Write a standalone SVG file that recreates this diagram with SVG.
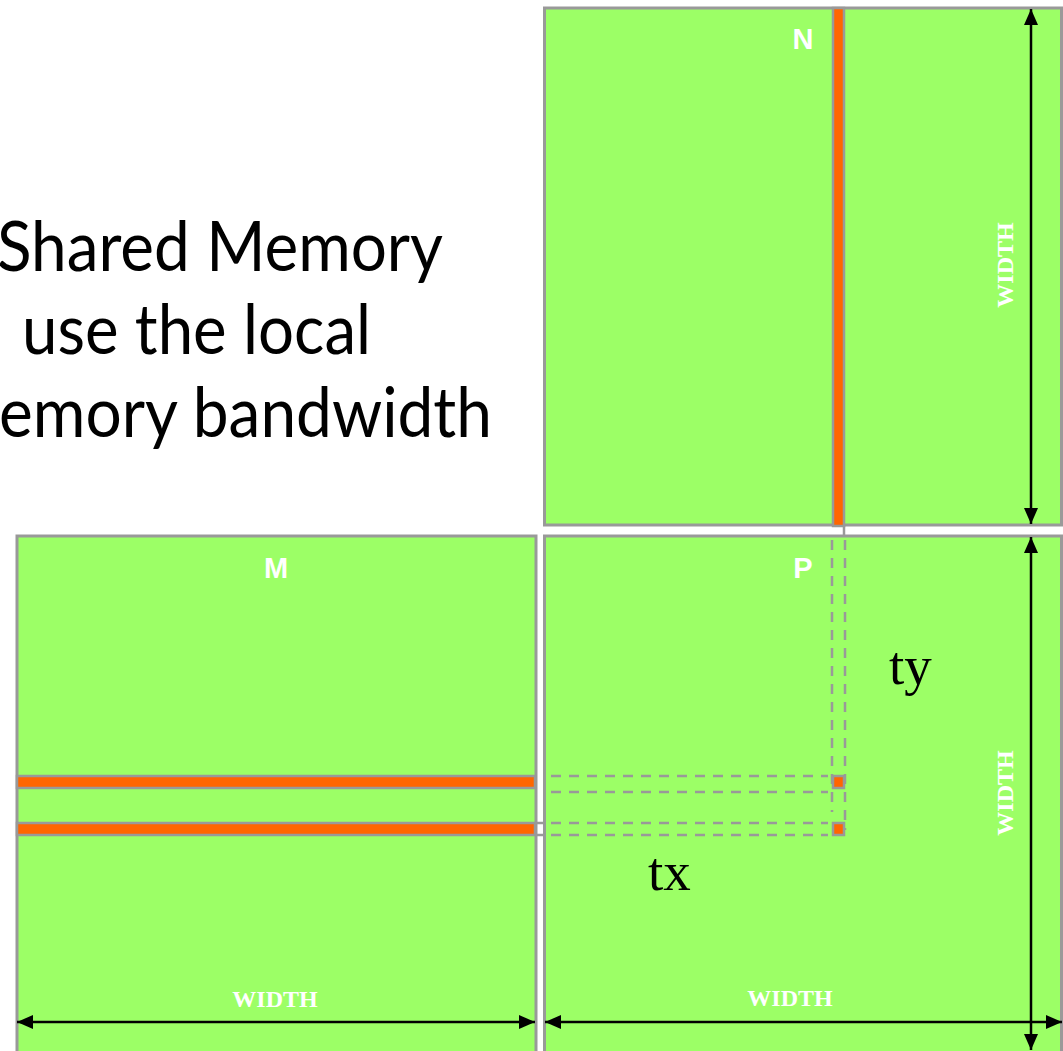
<svg xmlns="http://www.w3.org/2000/svg" width="1063" height="1051" viewBox="0 0 1063 1051">
  <defs>
    <style>
      .mat { fill: #9cff66; stroke: #999999; stroke-width: 3; }
      .row { fill: #ff6600; stroke: #999999; stroke-width: 2.5; }
      .dash { fill: none; stroke: #999999; stroke-width: 2.5; stroke-dasharray: 10 8; }
      .dim { stroke: #000000; stroke-width: 2.5; fill: none; marker-start: url(#tip); marker-end: url(#tip); }
      .lbl { fill: #ffffff; font-family: "Liberation Sans", Arial, sans-serif; font-weight: bold; font-size: 29px; text-anchor: middle; }
      .wid { fill: #ffffff; font-family: "Liberation Serif", "Times New Roman", serif; font-weight: bold; font-size: 24px; text-anchor: middle; }
      .idx { fill: #000000; font-family: "Liberation Serif", "Times New Roman", serif; font-size: 55px; }
      .body { fill: #000000; font-family: Lato, "Noto Sans", sans-serif; font-size: 70px; }
    </style>
    <marker id="tip" viewBox="0 0 16 14" refX="16" refY="7" markerWidth="16" markerHeight="14" markerUnits="userSpaceOnUse" orient="auto-start-reverse">
      <path d="M0,0 L16,7 L0,14 Z" fill="#000000"/>
    </marker>
  </defs>

  <rect width="1063" height="1051" fill="#ffffff"/>

  <!-- explanatory text on the left -->
  <g id="caption">
    <text class="body" x="-3" y="271" textLength="446" lengthAdjust="spacingAndGlyphs">Shared Memory</text>
    <text class="body" x="22" y="354" textLength="349" lengthAdjust="spacingAndGlyphs">use the local</text>
    <text class="body" x="-1" y="437" textLength="493" lengthAdjust="spacingAndGlyphs">emory bandwidth</text>
  </g>

  <!-- matrix N (top right) -->
  <g id="matrix-N">
    <rect class="mat" x="544.5" y="8" width="517" height="517"/>
    <rect class="row" x="833" y="8" width="11" height="518"/>
    <text class="lbl" x="803" y="49">N</text>
    <text class="wid" transform="translate(1013,265) rotate(-90)">WIDTH</text>
  </g>

  <!-- matrix M (bottom left) -->
  <g id="matrix-M">
    <rect class="mat" x="17" y="536" width="519" height="530"/>
    <rect class="row" x="17" y="776" width="518" height="12"/>
    <rect class="row" x="17" y="823" width="518" height="12"/>
    <text class="lbl" x="276" y="578">M</text>
    <text class="wid" x="275" y="1007">WIDTH</text>
  </g>

  <!-- matrix P (bottom right) -->
  <g id="matrix-P">
    <rect class="mat" x="544.5" y="536" width="517" height="530"/>
    <rect class="row" x="833" y="776" width="11" height="12"/>
    <rect class="row" x="833" y="823" width="11" height="12"/>
    <text class="lbl" x="803" y="578">P</text>
    <text class="wid" transform="translate(1013,793) rotate(-90)">WIDTH</text>
    <text class="wid" x="790" y="1006">WIDTH</text>
    <text class="idx" x="889" y="684">ty</text>
    <text class="idx" x="648" y="890">tx</text>
  </g>

  <!-- projection guides and dimension arrows -->
  <g id="connectors">
    <line x1="844" y1="525" x2="844" y2="537" stroke="#999999" stroke-width="2.5"/>
    <line x1="535" y1="823" x2="545" y2="823" stroke="#999999" stroke-width="2.5"/>
    <line x1="535" y1="835" x2="545" y2="835" stroke="#999999" stroke-width="2.5"/>
    <line class="dash" x1="832" y1="540" x2="832" y2="812"/>
    <line class="dash" x1="845" y1="540" x2="845" y2="830"/>
    <line class="dash" x1="551" y1="776" x2="828" y2="776"/>
    <line class="dash" x1="551" y1="792" x2="828" y2="792"/>
    <line class="dash" x1="551" y1="823" x2="828" y2="823"/>
    <line class="dash" x1="551" y1="835" x2="828" y2="835"/>
    <line class="dim" x1="1031" y1="9" x2="1031" y2="524"/>
    <line class="dim" x1="1031" y1="537" x2="1031" y2="1050"/>
    <line class="dim" x1="17" y1="1022" x2="535" y2="1022"/>
    <line class="dim" x1="545" y1="1022" x2="1062" y2="1022"/>
  </g>
</svg>
